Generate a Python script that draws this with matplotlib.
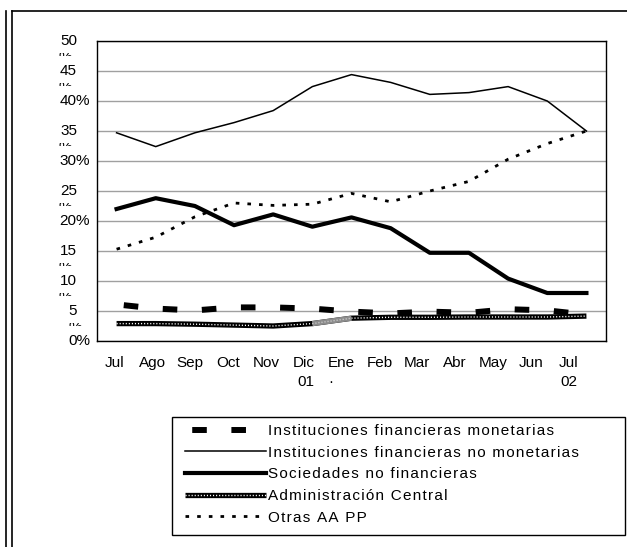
import matplotlib
matplotlib.use("Agg")
import matplotlib.pyplot as plt
from matplotlib.lines import Line2D
from matplotlib.patches import Rectangle
from matplotlib.transforms import ScaledTranslation, Bbox, TransformedBbox

plt.rcParams['font.family'] = ['Liberation Sans', 'DejaVu Sans']
plt.rcParams['lines.scale_dashes'] = False

# datos (% del total)
months = ["Jul", "Ago", "Sep", "Oct", "Nov", "Dic\n01", "Ene\n\u00b7", "Feb", "Mar",
          "Abr", "May", "Jun", "Jul\n02"]
ifm = [6.1, 5.4, 5.1, 5.6, 5.6, 5.4, 4.9, 4.6, 4.9, 4.7, 5.3, 5.1, 4.4]
ifnm = [34.7, 32.4, 34.7, 36.4, 38.4, 42.4, 44.4, 43.1, 41.1, 41.4, 42.4, 40.0, 35.0]
snf = [22.0, 23.8, 22.5, 19.3, 21.1, 19.05, 20.6, 18.8, 14.7, 14.7, 10.4, 8.0, 8.0]
admin = [2.9, 2.9, 2.8, 2.65, 2.5, 2.9, 3.8, 3.95, 3.95, 4.0, 4.0, 4.0, 4.15]
otras = [15.3, 17.3, 20.7, 23.0, 22.6, 22.8, 24.6, 23.2, 25.0, 26.6, 30.3, 32.9, 35.0]

labels = ["Instituciones financieras monetarias",
          "Instituciones financieras no monetarias",
          "Sociedades no financieras",
          "Administración Central",
          "Otras AA PP"]

y_ticks = list(range(0, 55, 5))
full_pct = [0, 20, 30, 40]

W, H = 627, 547
fig = plt.figure(figsize=(W / 100, H / 100), dpi=100)


def fx(px):
    return px / W


def fy(py):
    return 1 - py / H


def shift(dx_px, dy_px=0):
    return ScaledTranslation(dx_px / 100, dy_px / 100, fig.dpi_scale_trans)


ax = fig.add_axes([fx(97), fy(341), fx(606) - fx(97), fy(41) - fy(341)])
x = list(range(len(months)))

l_ifm, = ax.plot(x, ifm, color='black', lw=4.3, solid_capstyle='butt',
                 dash_capstyle='butt', linestyle=(23.0, (10.5, 17.7)))
l_ifnm, = ax.plot(x, ifnm, color='black', lw=1.1)
l_snf, = ax.plot(x, snf, color='black', lw=3.0)
l_adm, = ax.plot(x, admin, color='black', lw=3.8, solid_capstyle='butt')
l_adm2, = ax.plot(x, admin, color='white', lw=1.0, linestyle=(0, (0.8, 1.4)))
ax.plot(x[5:7], admin[5:7], color='#8c8c8c', lw=3.8, solid_capstyle='butt')
ax.plot(x[5:7], admin[5:7], color='#d0d0d0', lw=1.0, linestyle=(0, (0.8, 1.4)))
l_otr, = ax.plot(x, otras, color='black', lw=2.0, linestyle=(0, (2.6, 5.8)))

ax.set_xlim(-0.5, len(months) - 0.5)
ax.set_ylim(0, 50)
ax.set_yticks(y_ticks)
ax.yaxis.grid(True, color='#a0a0a0', lw=1.0)
ax.set_axisbelow(True)
ax.tick_params(length=0)
ax.set_xticks([])
ax.set_yticklabels([])
for s in ax.spines.values():
    s.set_linewidth(1.0)

# etiquetas del eje Y (el "%" que no cabe queda cortado)
ytr = ax.get_yaxis_transform()
for v in y_ticks:
    if v in full_pct:
        ax.text(0, v, f"{v}%", fontsize=11, ha='right', va='center',
                transform=ytr + shift(-7))
        continue
    t = ax.text(0, v, str(v), fontsize=11, ha='right', va='center',
                transform=ytr + shift(-20))
    left = -39 if v >= 10 else -29
    p = ax.text(0, v - 2.9, "%", fontsize=11, ha='left', va='center',
                transform=ytr + shift(left))
    p.set_clip_on(True)
    p.set_clip_box(TransformedBbox(Bbox.from_extents(-0.2, v - 2.5, 0, v - 1.95), ytr))

# etiquetas de meses
for i, m in enumerate(months):
    ma = 'right' if i == 5 else ('left' if i == 6 else 'center')
    ax.text(i, 0, m, fontsize=11, ha='center', va='top', multialignment=ma,
            linespacing=1.45,
            transform=ax.get_xaxis_transform() + shift(-2 - 1.3 * i, -15))

# marco de la leyenda y bordes de la página
fig.add_artist(Rectangle((fx(172), fy(535)), fx(625) - fx(172), fy(417) - fy(535),
                         fill=False, edgecolor='black', lw=1.0, transform=fig.transFigure))
fig.add_artist(Line2D([fx(6), fx(6)], [fy(11), 0], color='black', lw=1.2))
fig.add_artist(Line2D([fx(12), fx(12)], [fy(11), 0], color='black', lw=1.2))
fig.add_artist(Line2D([fx(12), 1], [fy(11), fy(11)], color='black', lw=1.2))

# espaciado de letras como en el original
spaced = ["\u200a".join(s) for s in labels]
leg = fig.legend([l_ifm, l_ifnm, l_snf, (l_adm, l_adm2), l_otr], spaced,
                 loc='upper left', bbox_to_anchor=(fx(185), fy(424)),
                 frameon=False, fontsize=11, handlelength=5.3, handletextpad=0.15,
                 labelspacing=0.5, borderpad=0, borderaxespad=0)

fig.savefig("out.png", dpi=100)
